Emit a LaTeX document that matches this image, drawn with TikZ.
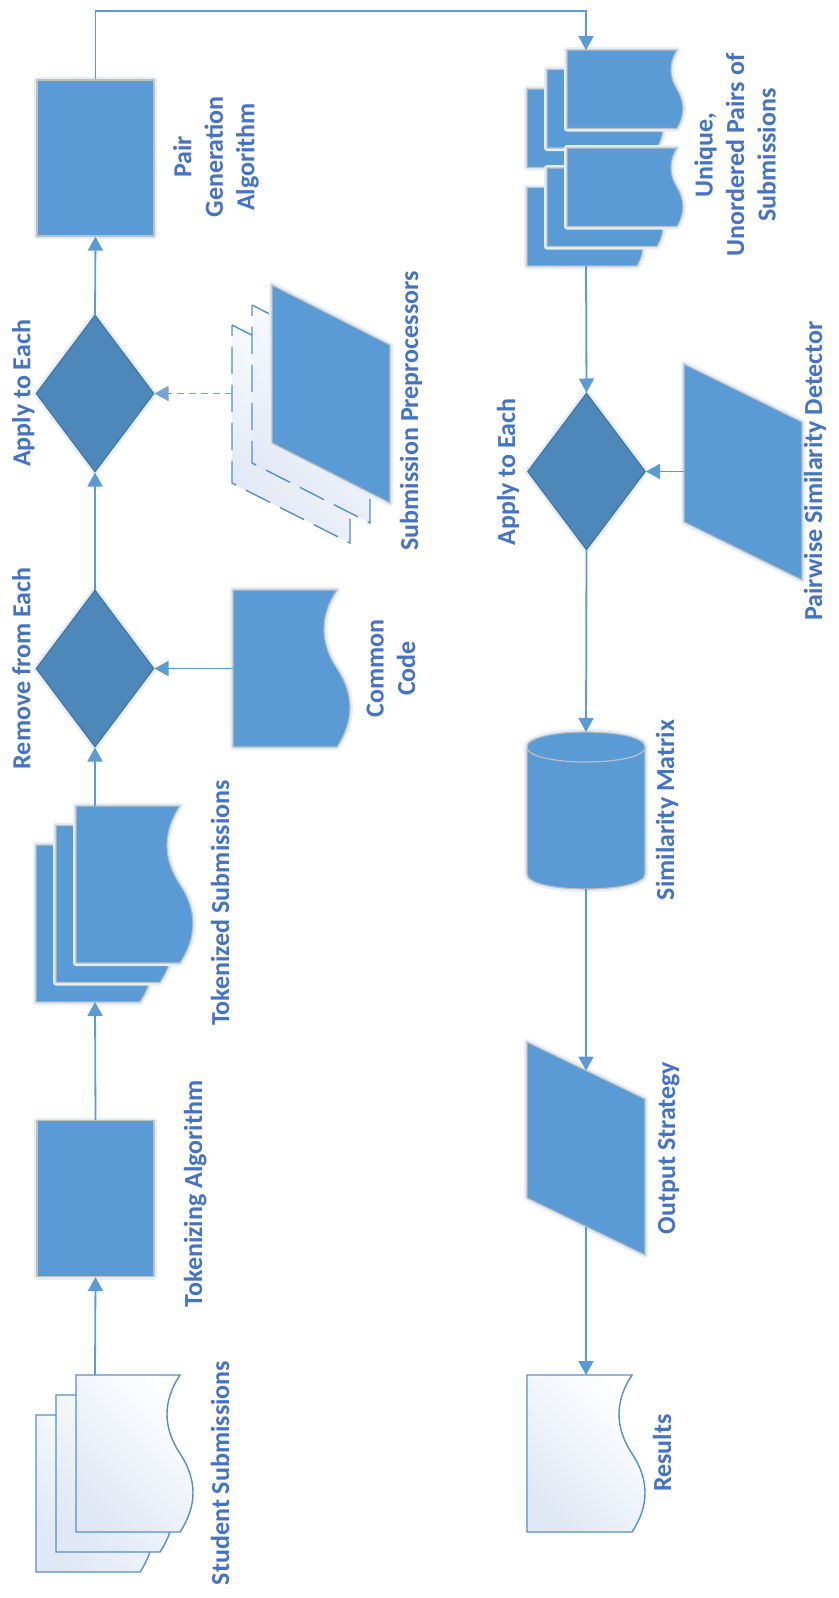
\documentclass[tikz,border=0pt]{standalone}
\usepackage{fontspec}
\setmainfont{Carlito}
\usetikzlibrary{arrows.meta,shapes.geometric}
\definecolor{fillb}{HTML}{5B9BD5}
\definecolor{diab}{HTML}{4E87B9}
\definecolor{diaedge}{HTML}{41719C}
\definecolor{edgeg}{HTML}{BFBFBF}
\definecolor{txtb}{HTML}{4472C4}
\definecolor{lineb}{HTML}{5B9BD5}
\definecolor{docedge}{HTML}{5490CB}
\definecolor{docshade}{HTML}{E0E8F5}
\definecolor{glowc}{HTML}{E4EEF9}
\definecolor{dashb}{HTML}{76A3D4}
% options, x0, y0, w, h, amplitude
\newcommand\DocPath[6]{\path[#1] (#2,#3) -- ({#2+#4},#3) .. controls ({#2+#4-1.333*#6},{#3+#5/6}) and ({#2+#4-1.333*#6},{#3+#5/3}) .. ({#2+#4},{#3+#5/2}) .. controls ({#2+#4+1.333*#6},{#3+2*#5/3}) and ({#2+#4+1.333*#6},{#3+5*#5/6}) .. ({#2+#4},{#3+#5}) -- (#2,{#3+#5}) -- cycle;}
% options, x0, y0, w, h, slant
\newcommand\ParPath[6]{\path[#1] (#2,#3) -- ({#2+#4},{#3+#6}) -- ({#2+#4},{#3+#6+#5}) -- (#2,{#3+#5}) -- cycle;}
\begin{document}
\begin{tikzpicture}[x=1pt,y=-1pt,
 arr/.style={draw=lineb, line width=1.8pt, -{Triangle[width=15pt,length=14pt]}},
 dasharr/.style={draw=dashb, line width=1.6pt, dash pattern=on 7pt off 5pt, -{Triangle[width=15pt,length=14pt]}},
 halo/.style={preaction={draw=glowc, line width=6pt, line join=round}},
 filled/.style={draw=edgeg, fill=fillb, line width=1.2pt, halo},
 whitedoc/.style={draw=docedge, line width=1.4pt, top color=white, bottom color=docshade, shading angle=-45},
 dashpar/.style={whitedoc, dash pattern=on 27pt off 11pt},
 procbox/.style={rectangle, filled, minimum width=117pt, minimum height=156pt, inner sep=0pt},
 decbox/.style={diamond, draw=diaedge, fill=diab, line width=1pt, halo, minimum width=118pt, minimum height=157pt, inner sep=0pt},
 lab/.style={text=txtb, font=\bfseries\fontsize{26}{31.5}\selectfont, rotate=90, inner sep=0pt},
]
\useasboundingbox[fill=white] (0,0) rectangle (838,1598);

% ---------- left column ----------
\node[procbox] (pair) at (95.5,158) {};
\node[decbox] (apply1) at (95,393.5) {};
\node[decbox] (remove) at (95,668.5) {};
\node[procbox] (tokalg) at (95.5,1198.5) {};

% Student submissions
\DocPath{whitedoc}{36}{1415}{104}{157}{13}
\DocPath{whitedoc}{56}{1395}{104}{157}{13}
\DocPath{whitedoc}{76}{1375}{104}{157}{13}
\coordinate (stud-top) at (95,1375);

% Tokenized submissions
\DocPath{filled}{36}{845}{104}{157}{13}
\DocPath{filled}{56}{825.5}{104}{157}{13}
\DocPath{filled}{76}{806}{104}{157}{13}
\coordinate (toks-bottom) at (95,1002);
\coordinate (toks-top) at (95,806);

% Common code
\DocPath{filled}{233}{590}{104}{157}{13}
\coordinate (common-left) at (233,668.5);

% Submission preprocessors
\ParPath{dashpar}{232}{325}{118}{158}{60}
\ParPath{dashpar}{252}{305}{118}{158}{60}
\ParPath{filled}{272}{285}{118}{158}{60}
\coordinate (prep-left) at (232,393.5);

% ---------- right column ----------
\DocPath{filled}{527}{89}{110}{78.5}{6}
\DocPath{filled}{547}{69.5}{110}{78.5}{6}
\DocPath{filled}{567}{50}{110}{78.5}{6}
\DocPath{filled}{527}{187.5}{110}{78.5}{6}
\DocPath{filled}{547}{168}{110}{78.5}{6}
\DocPath{filled}{567}{148}{110}{78.5}{6}
\coordinate (uniq-top) at (586,50);
\coordinate (uniq-bottom) at (586,266);
\coordinate (topbend) at (586,11);

\node[decbox] (apply2) at (586.5,471.5) {};

\ParPath{filled}{684}{364}{118}{158}{58}
\coordinate (pw-left) at (684,471.5);

% Similarity matrix (cylinder)
\path[filled] (527,747) .. controls (527,727) and (645,727) .. (645,747) -- (645,874) .. controls (645,894) and (527,894) .. (527,874) -- cycle;
\draw[draw=edgeg, line width=1.2pt] (527,747) .. controls (527,767) and (645,767) .. (645,747);
\coordinate (sim-top) at (586,732);
\coordinate (sim-bottom) at (586,889);

% Output strategy
\ParPath{filled}{527}{1042}{118}{156}{57}
\coordinate (out-top) at (586,1070.5);
\coordinate (out-bottom) at (586,1226.5);

% Results
\DocPath{whitedoc}{527}{1375}{105}{157}{13}
\coordinate (res-top) at (586,1375);

% ---------- connectors ----------
\draw[arr] (stud-top) -- (tokalg.south);
\draw[arr] (tokalg.north) -- (toks-bottom);
\draw[arr] (toks-top) -- (remove.south);
\draw[arr] (common-left) -- (remove.east);
\draw[arr] (remove.north) -- (apply1.south);
\draw[dasharr] (prep-left) -- (apply1.east);
\draw[arr] (apply1.north) -- (pair.south);
\draw[arr] (pair.north) |- (topbend) -- (uniq-top);
\draw[arr] (uniq-bottom) -- (apply2.north);
\draw[arr] (pw-left) -- (apply2.east);
\draw[arr] (apply2.south) -- (sim-top);
\draw[arr] (sim-bottom) -- (out-top);
\draw[arr] (out-bottom) -- (res-top);

% ---------- labels ----------
\node[lab, anchor=center, align=center] (l-pair) at (216,157) {Pair\\Generation\\Algorithm};
\node[lab, anchor=base] (l-apply1) at (30.5,393.5) {Apply to Each};
\node[lab, anchor=base] (l-prep) at (418,411) {Submission Preprocessors};
\node[lab, anchor=base] (l-remove) at (30.5,668.5) {Remove from Each};
\node[lab, anchor=center, align=center] (l-common) at (391,668.5) {Common\\Code};
\node[lab, anchor=base] (l-toks) at (229,903) {Tokenized Submissions};
\node[lab, anchor=base] (l-tokalg) at (202,1194) {Tokenizing Algorithm};
\node[lab, anchor=base] (l-stud) at (229,1473) {Student Submissions};
\node[lab, anchor=center, align=center] (l-uniq) at (735,155) {Unique,\\Unordered Pairs of\\Submissions};
\node[lab, anchor=base] (l-apply2) at (515,472) {Apply to Each};
\node[lab, anchor=base] (l-pw) at (822,471) {Pairwise Similarity Detector};
\node[lab, anchor=base] (l-sim) at (674,810) {Similarity Matrix};
\node[lab, anchor=base] (l-out) at (675,1148) {Output Strategy};
\node[lab, anchor=base] (l-res) at (671,1453) {Results};
\end{tikzpicture}
\end{document}
